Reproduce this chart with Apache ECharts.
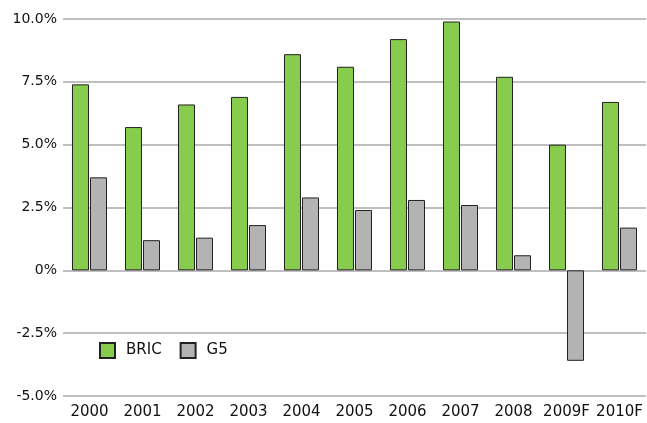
<!DOCTYPE html>
<html><head><meta charset="utf-8">
<script src="https://cdn.jsdelivr.net/npm/echarts@6/dist/echarts.min.js"></script>
<style>html,body{margin:0;padding:0;background:#fff}#c{width:647px;height:423px}</style>
</head><body><div id="c"></div>
<script>
const years=["2000","2001","2002","2003","2004","2005","2006","2007","2008","2009F","2010F"];
const bric=[7.4,5.7,6.6,6.9,8.6,8.1,9.2,9.9,7.7,5.0,6.7];
const g5=[3.7,1.2,1.3,1.8,2.9,2.4,2.8,2.6,0.6,-3.6,1.7];

const font="DejaVu Sans";
const chart=echarts.init(document.getElementById("c"));
chart.setOption({
  animation:false,
  textStyle:{fontFamily:font},
  grid:{left:63,right:1,top:19,bottom:27},
  legend:{
    left:99,top:342,padding:0,icon:"rect",itemWidth:15,itemHeight:15,itemGap:18,
    textStyle:{fontSize:15,color:"#111",fontFamily:font,padding:[0,0,0,6]},
    data:["BRIC","G5"]
  },
  xAxis:{
    type:"category",data:years,
    axisLine:{show:false},axisTick:{show:false},
    axisLabel:{color:"#111",fontSize:15,margin:9,interval:0}
  },
  yAxis:{
    type:"value",min:-5,max:10,interval:2.5,
    axisLabel:{color:"#111",fontSize:14,margin:6,
      formatter:v=>v===0?"0%":v.toFixed(1)+"%"},
    splitLine:{lineStyle:{color:"#aaa",width:1.5}}
  },
  series:[
    {name:"BRIC",type:"bar",data:bric,barWidth:17,barGap:"6%",
     itemStyle:{color:"#88cc4e",borderColor:"#222",borderWidth:1}},
    {name:"G5",type:"bar",data:g5,barWidth:17,
     itemStyle:{color:"#b3b3b3",borderColor:"#222",borderWidth:1}}
  ]
});
</script></body></html>
